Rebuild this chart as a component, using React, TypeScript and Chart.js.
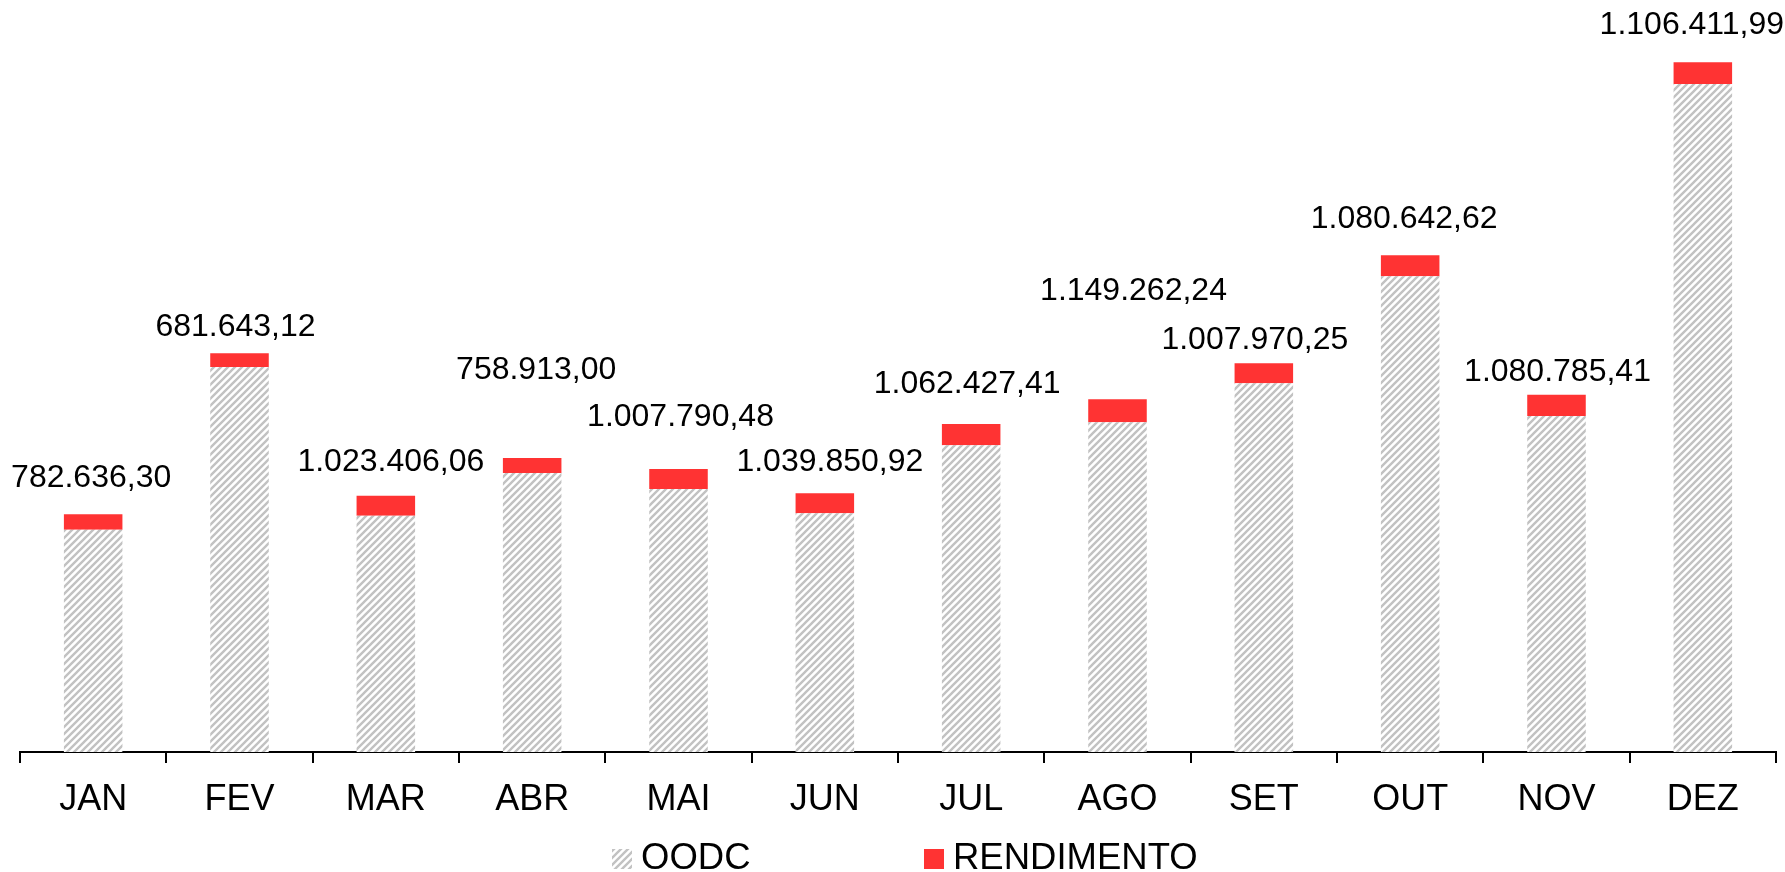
import React, { useEffect, useRef } from 'react';
import { Chart, registerables } from 'chart.js';

Chart.register(...registerables);

const months = ['JAN', 'FEV', 'MAR', 'ABR', 'MAI', 'JUN', 'JUL', 'AGO', 'SET', 'OUT', 'NOV', 'DEZ'];
const oodc = [222300, 385000, 236300, 279000, 263000, 238700, 306700, 329700, 368700, 475700, 336000, 668000];
const rendimento = [15400, 13700, 20000, 15000, 20000, 20000, 21300, 23000, 20000, 21000, 21300, 21700];
const labelTexts = [
  '782.636,30', '681.643,12', '1.023.406,06', '758.913,00', '1.007.790,48', '1.039.850,92',
  '1.062.427,41', '1.149.262,24', '1.007.970,25', '1.080.642,62', '1.080.785,41', '1.106.411,99',
];
const labelLevels = [274000, 425300, 290300, 382000, 335300, 290200, 368000, 460600, 411500, 533000, 379500, 727000];
const labelShift = [-2, -4, 5, 4, 2, 5, -4, 16, -9, -6, 1, -11];
const seriesNames = ['OODC', 'RENDIMENTO'];

const FONT = '"Liberation Sans", Arial, sans-serif';
const RED = '#FF3333';

function makeHatch(): CanvasPattern | string {
  const c = document.createElement('canvas');
  const s = 7;
  c.width = s;
  c.height = s;
  const g = c.getContext('2d');
  if (!g) return '#cccccc';
  g.fillStyle = '#ffffff';
  g.fillRect(0, 0, s, s);
  g.strokeStyle = '#c2c2c2';
  g.lineWidth = 2.4;
  g.beginPath();
  g.moveTo(-1, s + 1);
  g.lineTo(s + 1, -1);
  g.moveTo(-2, 2);
  g.lineTo(2, -2);
  g.moveTo(s - 2, s + 2);
  g.lineTo(s + 2, s - 2);
  g.stroke();
  const p = g.createPattern(c, 'repeat');
  return p || '#cccccc';
}

export default function App() {
  const ref = useRef<HTMLCanvasElement | null>(null);

  useEffect(() => {
    const canvas = ref.current;
    if (!canvas) return;
    const hatch = makeHatch();

    const overlay = {
      id: 'overlay',
      afterDraw(chart: any) {
        const { ctx, scales } = chart;
        const x = scales.x;
        const y = scales.y;
        ctx.save();
        ctx.fillStyle = '#000';
        ctx.font = '32px ' + FONT;
        ctx.textAlign = 'center';
        ctx.textBaseline = 'middle';
        labelTexts.forEach((t, i) => {
          ctx.fillText(t, x.getPixelForValue(i) + labelShift[i], y.getPixelForValue(labelLevels[i]));
        });
        // legend
        ctx.font = '36.5px ' + FONT;
        ctx.textAlign = 'left';
        ctx.fillStyle = hatch as any;
        ctx.fillRect(612, 849, 20, 20);
        ctx.fillStyle = '#000';
        ctx.fillText(seriesNames[0], 641, 859);
        ctx.fillStyle = RED;
        ctx.fillRect(924, 849, 20, 20);
        ctx.fillStyle = '#000';
        ctx.fillText(seriesNames[1], 953, 859);
        ctx.restore();
      },
    };

    const chart = new Chart(canvas, {
      type: 'bar',
      data: {
        labels: months,
        datasets: [
          {
            label: seriesNames[0],
            data: oodc,
            backgroundColor: hatch as any,
            borderWidth: 0,
            barPercentage: 0.4,
            categoryPercentage: 1,
          },
          {
            label: seriesNames[1],
            data: rendimento,
            backgroundColor: RED,
            borderWidth: 0,
            barPercentage: 0.4,
            categoryPercentage: 1,
          },
        ],
      },
      options: {
        animation: false,
        responsive: false,
        devicePixelRatio: 1,
        layout: { padding: { left: 20, right: 9, top: 32, bottom: 0 } },
        plugins: {
          legend: { display: false },
          tooltip: { enabled: false },
        },
        scales: {
          x: {
            stacked: true,
            afterFit: (scale: any) => {
              scale.height = 120;
            },
            grid: {
              display: true,
              offset: true,
              drawOnChartArea: false,
              drawTicks: true,
              tickLength: 11,
              color: '#000',
              lineWidth: 2,
            },
            border: { display: true, color: '#000', width: 2 },
            ticks: {
              color: '#000',
              font: { family: FONT, size: 36 },
              padding: 15,
              maxRotation: 0,
              autoSkip: false,
            },
          },
          y: {
            stacked: true,
            display: false,
            min: 0,
            max: 720000,
          },
        },
      },
      plugins: [overlay],
    });

    return () => chart.destroy();
  }, []);

  return (
    <canvas
      ref={ref}
      width={1785}
      height={872}
      style={{ position: 'absolute', left: 0, top: 0, display: 'block' }}
    />
  );
}
